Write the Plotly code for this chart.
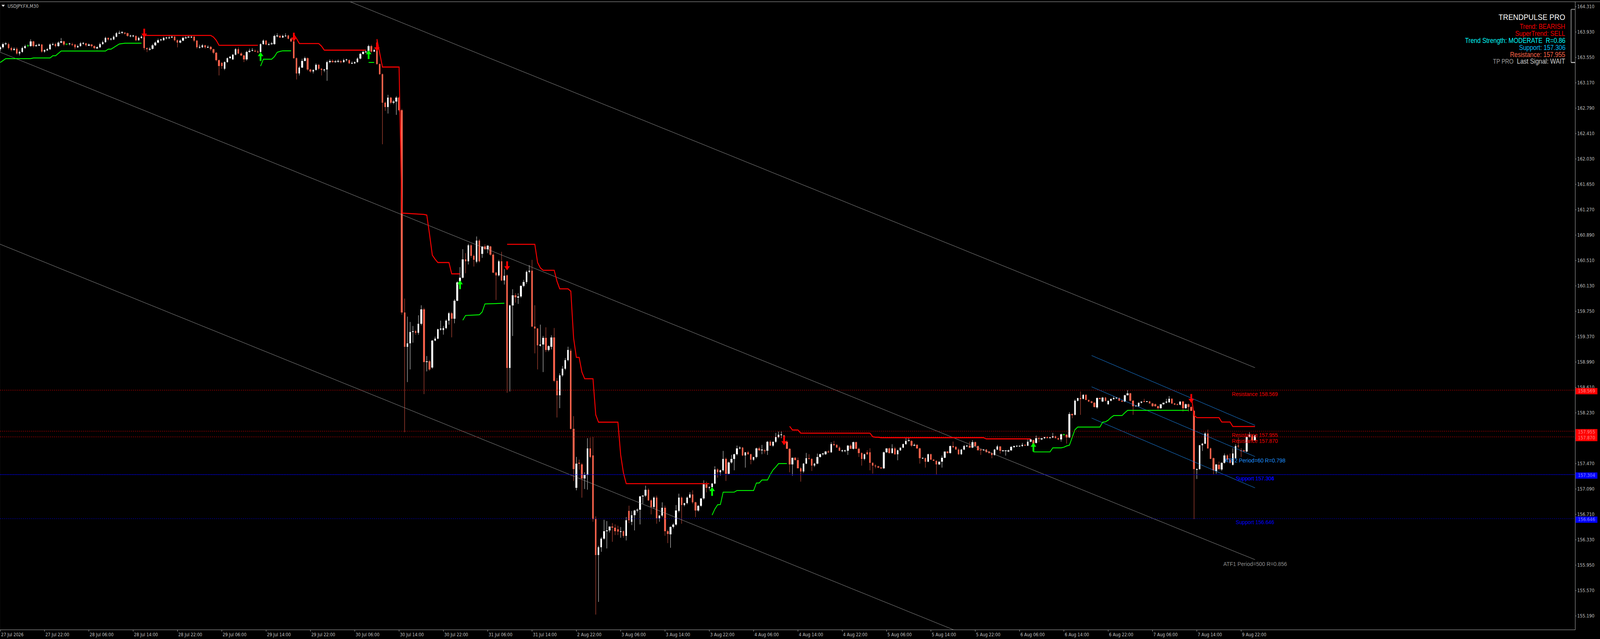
import plotly.graph_objects as go

# ---------------- candle data (USDJPY.FX, M30), bar index 0..453 ----------------
bar_open = [
    163.67, 163.70, 163.75, 163.75, 163.69, 163.66, 163.68, 163.61, 163.63, 163.69,
    163.72, 163.72, 163.79, 163.72, 163.73, 163.74, 163.64, 163.66, 163.67, 163.74,
    163.75, 163.72, 163.77, 163.79, 163.745, 163.75, 163.75, 163.74, 163.70, 163.72,
    163.76, 163.76, 163.73, 163.74, 163.72, 163.69, 163.70, 163.75, 163.78, 163.84,
    163.82, 163.82, 163.86, 163.91, 163.92, 163.92, 163.91, 163.87, 163.87, 163.87,
    163.81, 163.84, 163.86, 163.69, 163.67, 163.68, 163.73, 163.77, 163.81, 163.81,
    163.84, 163.84, 163.85, 163.86, 163.81, 163.77, 163.80, 163.84, 163.85, 163.85,
    163.86, 163.80, 163.70, 163.70, 163.73, 163.70, 163.71, 163.67, 163.62, 163.51,
    163.47, 163.38, 163.48, 163.54, 163.52, 163.59, 163.67, 163.61, 163.58, 163.52,
    163.63, 163.65, 163.65, 163.64, 163.63, 163.75, 163.80, 163.74, 163.75, 163.75,
    163.87, 163.87, 163.85, 163.87, 163.88, 163.83, 163.79, 163.54, 163.31, 163.40,
    163.50, 163.54, 163.37, 163.34, 163.36, 163.44, 163.38, 163.36, 163.37, 163.48,
    163.50, 163.48, 163.49, 163.49, 163.48, 163.51, 163.51, 163.46, 163.46, 163.48,
    163.53, 163.60, 163.63, 163.64, 163.72, 163.64, 163.71, 163.45, 163.30, 162.87,
    162.81, 162.95, 162.87, 162.89, 162.95, 162.76,
    159.73, 159.22, 159.27, 159.44, 159.45, 159.43, 159.56, 159.78, 158.99, 159.00,
    158.91, 159.31, 159.34, 159.48, 159.47, 159.50, 159.61, 159.72, 159.64, 159.91,
    160.18, 160.25, 160.53, 160.50, 160.74, 160.58, 160.49, 160.81, 160.61, 160.72,
    160.68, 160.72, 160.60, 160.33, 160.29, 160.50, 160.21, 160.29, 158.90, 159.84,
    159.99, 159.96, 159.97, 160.13, 160.19, 160.34, 160.36, 159.52, 159.49, 159.24,
    159.25, 159.35, 159.17, 159.22, 159.36, 158.71, 158.49, 158.79, 158.89, 159.02,
    159.16, 157.99, 157.11, 157.48, 157.46, 157.25, 157.30, 157.70, 157.59, 156.64,
    156.10, 156.22, 156.35, 156.46, 156.47, 156.53, 156.51, 156.49, 156.45,
    156.46, 156.39, 156.76, 156.60, 156.70, 156.77, 156.78, 156.98, 156.99, 157.08,
    156.92, 156.82, 156.96, 156.65, 156.69, 156.81, 156.46, 156.41, 156.52, 156.56,
    156.76, 156.96, 156.85, 156.88, 156.96, 157.01, 156.89, 156.77, 156.84, 156.95,
    157.16, 157.11, 157.12, 157.17, 157.38, 157.34, 157.37, 157.54, 157.32, 157.49,
    157.54, 157.61, 157.70, 157.71, 157.59, 157.64, 157.61, 157.53, 157.57, 157.70,
    157.67, 157.67, 157.66, 157.80, 157.74, 157.80, 157.87, 157.90, 157.89, 157.80,
    157.69, 157.46, 157.56, 157.52, 157.40, 157.35, 157.47, 157.55, 157.54, 157.44,
    157.47, 157.57, 157.61, 157.61, 157.65, 157.64, 157.76, 157.75, 157.71, 157.66,
    157.66, 157.66, 157.74, 157.69, 157.79, 157.69, 157.63, 157.54, 157.64, 157.64,
    157.48, 157.44, 157.43, 157.41, 157.40, 157.64, 157.70, 157.63, 157.70, 157.61,
    157.67, 157.71, 157.76, 157.81, 157.81, 157.74, 157.75, 157.70, 157.55, 157.55,
    157.50, 157.61, 157.53, 157.51, 157.46, 157.50, 157.56, 157.65, 157.63, 157.73,
    157.72,
    157.68, 157.61, 157.68, 157.73, 157.74, 157.71, 157.79, 157.73, 157.68, 157.67,
    157.68, 157.65, 157.63, 157.60, 157.68, 157.725, 157.66, 157.66, 157.65, 157.67,
    157.72, 157.73, 157.73, 157.73, 157.75, 157.74, 157.80, 157.82, 157.78, 157.85,
    157.83, 157.85, 157.87, 157.85, 157.86, 157.88, 157.85, 157.83, 157.90, 157.90,
    157.86, 158.21, 158.20, 158.41, 158.45, 158.44, 158.50, 158.42, 158.40, 158.38,
    158.31, 158.45, 158.40, 158.455, 158.36, 158.41, 158.44, 158.45, 158.45, 158.41,
    158.40, 158.49, 158.52, 158.41, 158.33, 158.33, 158.38, 158.40, 158.395, 158.40,
    158.37, 158.36, 158.33, 158.30, 158.36, 158.38, 158.39, 158.44, 158.37, 158.36,
    158.35, 158.40, 158.30, 158.36, 158.32, 158.26, 157.38, 157.39, 157.745, 157.77,
    157.92, 157.70, 157.55, 157.36, 157.45, 157.38, 157.48, 157.59, 157.53, 157.45,
    157.55, 157.74, 157.67, 157.67, 157.65, 157.865, 157.89, 157.82,
]
bar_high = [
    163.72, 163.77, 163.78, 163.77, 163.71, 163.70, 163.70, 163.65, 163.71, 163.74,
    163.75, 163.82, 163.80, 163.75, 163.76, 163.75, 163.67, 163.69, 163.76, 163.77,
    163.77, 163.79, 163.84, 163.80, 163.76, 163.77, 163.77, 163.75, 163.74, 163.78,
    163.78, 163.77, 163.76, 163.75, 163.73, 163.72, 163.77, 163.80, 163.86, 163.85,
    163.84, 163.88, 163.93, 163.95, 163.94, 163.93, 163.92, 163.89, 163.89, 163.88,
    163.86, 163.88, 163.89, 163.70, 163.70, 163.75, 163.79, 163.83, 163.83, 163.86,
    163.86, 163.87, 163.88, 163.87, 163.82, 163.82, 163.86, 163.87, 163.87, 163.88,
    163.87, 163.81, 163.74, 163.75, 163.74, 163.73, 163.72, 163.68, 163.63, 163.52,
    163.48, 163.49, 163.55, 163.57, 163.60, 163.69, 163.70, 163.63, 163.59, 163.65,
    163.68, 163.69, 163.67, 163.66, 163.76, 163.82, 163.81, 163.77, 163.78, 163.89,
    163.91, 163.89, 163.89, 163.91, 163.89, 163.84, 163.82, 163.55, 163.42, 163.53,
    163.56, 163.55, 163.38, 163.37, 163.46, 163.45, 163.39, 163.38, 163.50, 163.52,
    163.52, 163.51, 163.52, 163.51, 163.53, 163.53, 163.52, 163.49, 163.49, 163.55,
    163.62, 163.65, 163.66, 163.74, 163.74, 163.68, 163.82, 163.46, 163.31, 162.89,
    162.99, 162.96, 162.91, 162.97, 162.96, 162.78,
    159.94, 159.67, 159.59, 159.53, 159.47, 159.69, 159.84, 159.80, 159.08, 159.02,
    159.32, 159.37, 159.49, 159.61, 159.53, 159.63, 159.74, 159.74, 159.93, 160.20,
    160.41, 160.68, 160.62, 160.76, 160.76, 160.60, 160.87, 160.83, 160.72, 160.75,
    160.74, 160.73, 160.62, 160.34, 160.52, 160.64, 160.38, 160.30, 159.85, 160.08,
    160.02, 160.02, 160.14, 160.22, 160.36, 160.44, 160.52, 159.84, 159.50, 159.55,
    159.38, 159.51, 159.24, 159.39, 159.50, 158.75, 158.82, 158.93, 159.05, 159.22,
    159.19, 158.18, 157.57, 157.53, 157.48, 157.34, 157.85, 157.86, 157.87, 156.68,
    156.24, 156.37, 156.63, 156.61, 156.52, 156.58, 156.56, 156.54, 156.52,
    156.47, 156.67, 156.84, 156.76, 156.78, 156.80, 156.99, 157.00, 157.14, 157.10,
    156.94, 156.98, 156.99, 156.70, 156.89, 156.84, 156.48, 156.53, 156.58, 156.85,
    157.02, 156.98, 156.88, 156.98, 157.04, 157.07, 156.90, 156.85, 156.95, 157.22,
    157.20, 157.13, 157.18, 157.43, 157.40, 157.38, 157.66, 157.56, 157.50, 157.60,
    157.62, 157.74, 157.73, 157.72, 157.64, 157.66, 157.62, 157.57, 157.71, 157.72,
    157.75, 157.69, 157.81, 157.82, 157.80, 157.93, 157.95, 157.95, 157.90, 157.82,
    157.70, 157.56, 157.57, 157.56, 157.42, 157.48, 157.63, 157.61, 157.55, 157.48,
    157.62, 157.62, 157.63, 157.66, 157.67, 157.79, 157.81, 157.76, 157.73, 157.68,
    157.68, 157.75, 157.76, 157.80, 157.80, 157.71, 157.64, 157.62, 157.67, 157.70,
    157.49, 157.46, 157.44, 157.42, 157.65, 157.70, 157.71, 157.76, 157.72, 157.68,
    157.71, 157.77, 157.85, 157.85, 157.82, 157.77, 157.76, 157.71, 157.56, 157.56,
    157.62, 157.62, 157.54, 157.52, 157.50, 157.59, 157.65, 157.66, 157.74, 157.80,
    157.73,
    157.70, 157.69, 157.75, 157.75, 157.80, 157.82, 157.80, 157.74, 157.69, 157.69,
    157.69, 157.66, 157.64, 157.69, 157.75, 157.73, 157.67, 157.67, 157.68, 157.73,
    157.74, 157.74, 157.74, 157.78, 157.76, 157.83, 157.84, 157.83, 157.89, 157.87,
    157.85, 157.87, 157.88, 157.87, 157.93, 157.89, 157.86, 157.92, 157.92, 157.91,
    158.24, 158.22, 158.43, 158.45, 158.55, 158.51, 158.51, 158.43, 158.41, 158.39,
    158.46, 158.46, 158.47, 158.47, 158.41, 158.44, 158.48, 158.46, 158.46, 158.42,
    158.50, 158.57, 158.53, 158.42, 158.34, 158.37, 158.40, 158.44, 158.40, 158.41,
    158.38, 158.37, 158.34, 158.36, 158.38, 158.44, 158.48, 158.45, 158.38, 158.37,
    158.40, 158.41, 158.37, 158.37, 158.33, 158.27, 157.40, 157.75, 157.78, 157.94,
    157.98, 157.71, 157.56, 157.46, 157.50, 157.49, 157.62, 157.61, 157.62, 157.70,
    157.76, 157.86, 157.70, 157.68, 157.88, 157.94, 157.91, 157.90,
]
bar_low = [
    163.64, 163.68, 163.73, 163.67, 163.64, 163.65, 163.59, 163.58, 163.62, 163.68,
    163.70, 163.71, 163.70, 163.71, 163.72, 163.62, 163.62, 163.65, 163.66, 163.73,
    163.70, 163.71, 163.76, 163.72, 163.73, 163.73, 163.72, 163.67, 163.69, 163.71,
    163.74, 163.71, 163.72, 163.70, 163.67, 163.68, 163.69, 163.74, 163.77, 163.80,
    163.80, 163.81, 163.85, 163.90, 163.90, 163.89, 163.86, 163.85, 163.85, 163.79,
    163.80, 163.83, 163.66, 163.63, 163.65, 163.67, 163.72, 163.76, 163.79, 163.80,
    163.82, 163.83, 163.84, 163.79, 163.70, 163.76, 163.79, 163.83, 163.84, 163.84,
    163.78, 163.68, 163.68, 163.69, 163.68, 163.69, 163.65, 163.60, 163.49, 163.28,
    163.38, 163.36, 163.47, 163.53, 163.51, 163.58, 163.60, 163.57, 163.48, 163.50,
    163.62, 163.64, 163.63, 163.62, 163.60, 163.74, 163.73, 163.73, 163.74, 163.74,
    163.85, 163.84, 163.84, 163.86, 163.82, 163.78, 163.53, 163.22, 163.28, 163.39,
    163.49, 163.35, 163.32, 163.31, 163.35, 163.36, 163.28, 163.33, 163.20, 163.46,
    163.47, 163.47, 163.47, 163.46, 163.47, 163.49, 163.45, 163.45, 163.45, 163.47,
    163.52, 163.59, 163.62, 163.56, 163.62, 163.63, 163.44, 163.29, 162.25, 162.75,
    162.71, 162.85, 162.85, 162.69, 162.74, 159.70,
    157.94, 158.69, 158.88, 159.28, 159.40, 159.40, 159.54, 158.51, 158.85, 158.86,
    158.89, 159.30, 159.33, 159.46, 159.40, 159.48, 159.55, 159.36, 159.57, 159.90,
    160.15, 160.24, 160.32, 160.45, 160.55, 160.42, 160.47, 160.48, 160.55, 160.67,
    160.62, 160.58, 160.32, 159.92, 160.27, 160.20, 160.15, 158.53, 158.55, 159.38,
    159.88, 159.86, 159.95, 160.11, 160.16, 160.32, 159.51, 159.12, 158.88, 159.22,
    158.84, 159.14, 159.15, 159.18, 158.69, 158.16, 158.30, 158.77, 158.87, 159.00,
    157.98, 157.21, 157.07, 157.38, 156.96, 157.09, 157.08, 157.55, 156.60, 155.21,
    155.40, 156.15, 156.33, 156.20, 156.44, 156.30, 156.40, 156.40, 156.36,
    156.36, 156.32, 156.58, 156.55, 156.47, 156.74, 156.56, 156.87, 156.97, 156.91,
    156.71, 156.80, 156.57, 156.60, 156.67, 156.39, 156.28, 156.21, 156.50, 156.54,
    156.74, 156.57, 156.83, 156.86, 156.95, 156.87, 156.67, 156.75, 156.82, 156.93,
    157.04, 157.08, 157.10, 157.16, 157.26, 157.29, 157.35, 157.21, 157.30, 157.47,
    157.37, 157.59, 157.68, 157.58, 157.41, 157.60, 157.46, 157.51, 157.55, 157.66,
    157.61, 157.62, 157.60, 157.74, 157.72, 157.78, 157.85, 157.85, 157.80, 157.69,
    157.34, 157.29, 157.52, 157.40, 157.20, 157.33, 157.46, 157.53, 157.36, 157.42,
    157.46, 157.56, 157.59, 157.60, 157.63, 157.63, 157.74, 157.71, 157.66, 157.64,
    157.64, 157.60, 157.69, 157.68, 157.69, 157.57, 157.44, 157.52, 157.60, 157.37,
    157.32, 157.40, 157.40, 157.39, 157.39, 157.63, 157.62, 157.62, 157.60, 157.52,
    157.66, 157.70, 157.75, 157.80, 157.72, 157.73, 157.69, 157.47, 157.54, 157.41,
    157.49, 157.53, 157.51, 157.30, 157.45, 157.41, 157.55, 157.62, 157.62, 157.70,
    157.68,
    157.60, 157.60, 157.67, 157.72, 157.70, 157.70, 157.73, 157.67, 157.60, 157.66,
    157.64, 157.62, 157.55, 157.59, 157.67, 157.62, 157.65, 157.59, 157.64, 157.66,
    157.71, 157.72, 157.72, 157.72, 157.74, 157.73, 157.79, 157.76, 157.77, 157.79,
    157.82, 157.84, 157.85, 157.85, 157.85, 157.85, 157.82, 157.80, 157.89, 157.77,
    157.85, 158.15, 158.19, 158.40, 158.20, 158.43, 158.42, 158.39, 158.37, 158.31,
    158.29, 158.44, 158.39, 158.40, 158.35, 158.40, 158.43, 158.44, 158.41, 158.39,
    158.39, 158.49, 158.40, 158.20, 158.32, 158.32, 158.37, 158.39, 158.39, 158.37,
    158.32, 158.32, 158.28, 158.29, 158.35, 158.37, 158.38, 158.36, 158.35, 158.35,
    158.34, 158.25, 158.29, 158.25, 158.26, 156.64, 157.24, 157.38, 157.66, 157.76,
    157.69, 157.54, 157.31, 157.32, 157.37, 157.36, 157.47, 157.51, 157.47, 157.44,
    157.54, 157.70, 157.57, 157.64, 157.64, 157.86, 157.81, 157.81,
]
bar_close = [
    163.70, 163.75, 163.75, 163.69, 163.66, 163.68, 163.61, 163.63, 163.69, 163.72,
    163.72, 163.79, 163.72, 163.73, 163.74, 163.64, 163.66, 163.67, 163.74, 163.75,
    163.72, 163.77, 163.79, 163.74, 163.745, 163.75, 163.74, 163.70, 163.72, 163.76,
    163.76, 163.73, 163.74, 163.72, 163.69, 163.70, 163.75, 163.78, 163.84, 163.82,
    163.82, 163.86, 163.91, 163.92, 163.92, 163.91, 163.87, 163.87, 163.87, 163.81,
    163.84, 163.86, 163.69, 163.67, 163.68, 163.73, 163.77, 163.81, 163.81, 163.84,
    163.84, 163.85, 163.86, 163.81, 163.77, 163.80, 163.84, 163.85, 163.85, 163.86,
    163.80, 163.70, 163.70, 163.73, 163.70, 163.71, 163.67, 163.62, 163.51, 163.42,
    163.42, 163.48, 163.54, 163.56, 163.59, 163.67, 163.61, 163.58, 163.52, 163.63,
    163.65, 163.65, 163.64, 163.63, 163.75, 163.80, 163.74, 163.75, 163.75, 163.87,
    163.87, 163.85, 163.87, 163.88, 163.83, 163.79, 163.54, 163.31, 163.40, 163.50,
    163.54, 163.37, 163.34, 163.36, 163.44, 163.38, 163.36, 163.37, 163.48, 163.50,
    163.48, 163.49, 163.49, 163.48, 163.51, 163.51, 163.46, 163.46, 163.48, 163.53,
    163.60, 163.63, 163.64, 163.72, 163.64, 163.66, 163.45, 163.30, 162.87, 162.81,
    162.95, 162.87, 162.89, 162.95, 162.76, 159.73,
    159.22, 159.27, 159.44, 159.45, 159.43, 159.56, 159.78, 158.99, 158.99, 158.88,
    159.31, 159.34, 159.48, 159.49, 159.50, 159.61, 159.72, 159.64, 159.91, 160.18,
    160.25, 160.53, 160.50, 160.74, 160.58, 160.52, 160.81, 160.50, 160.72, 160.68,
    160.73, 160.60, 160.33, 160.29, 160.50, 160.21, 160.28, 158.90, 159.84, 159.99,
    159.96, 159.97, 160.13, 160.19, 160.34, 160.36, 159.52, 159.49, 159.24, 159.25,
    159.35, 159.17, 159.23, 159.36, 158.71, 158.49, 158.79, 158.89, 159.02, 159.17,
    157.99, 157.39, 157.47, 157.47, 157.25, 157.30, 157.70, 157.57, 156.64, 156.10,
    156.22, 156.35, 156.46, 156.47, 156.53, 156.51, 156.46, 156.45, 156.46,
    156.39, 156.62, 156.62, 156.70, 156.77, 156.78, 156.98, 156.99, 157.08, 156.92,
    156.82, 156.96, 156.65, 156.69, 156.81, 156.46, 156.42, 156.52, 156.56, 156.77,
    156.96, 156.85, 156.88, 156.96, 157.01, 156.89, 156.77, 156.84, 156.95, 157.16,
    157.11, 157.12, 157.17, 157.38, 157.34, 157.37, 157.54, 157.32, 157.49, 157.54,
    157.61, 157.70, 157.71, 157.59, 157.64, 157.61, 157.53, 157.57, 157.70, 157.67,
    157.67, 157.66, 157.80, 157.74, 157.80, 157.87, 157.90, 157.90, 157.80, 157.69,
    157.46, 157.56, 157.52, 157.40, 157.35, 157.47, 157.55, 157.54, 157.44, 157.47,
    157.57, 157.61, 157.61, 157.65, 157.64, 157.76, 157.75, 157.71, 157.66, 157.66,
    157.66, 157.74, 157.69, 157.79, 157.69, 157.63, 157.54, 157.61, 157.61, 157.48,
    157.44, 157.43, 157.41, 157.40, 157.64, 157.70, 157.63, 157.70, 157.61, 157.67,
    157.71, 157.76, 157.81, 157.81, 157.74, 157.75, 157.70, 157.55, 157.55, 157.50,
    157.61, 157.53, 157.51, 157.46, 157.50, 157.56, 157.65, 157.63, 157.73, 157.72,
    157.68,
    157.61, 157.68, 157.73, 157.74, 157.71, 157.79, 157.73, 157.67, 157.67, 157.68,
    157.64, 157.63, 157.60, 157.68, 157.725, 157.66, 157.66, 157.66, 157.67, 157.72,
    157.73, 157.73, 157.73, 157.75, 157.74, 157.80, 157.83, 157.76, 157.85, 157.84,
    157.85, 157.87, 157.85, 157.86, 157.88, 157.85, 157.83, 157.91, 157.90, 157.86,
    158.21, 158.20, 158.41, 158.45, 158.44, 158.50, 158.42, 158.40, 158.38, 158.32,
    158.45, 158.44, 158.455, 158.41, 158.41, 158.44, 158.45, 158.45, 158.41, 158.40,
    158.49, 158.52, 158.41, 158.33, 158.34, 158.38, 158.40, 158.395, 158.40, 158.37,
    158.33, 158.33, 158.30, 158.36, 158.38, 158.40, 158.44, 158.37, 158.35, 158.35,
    158.40, 158.30, 158.36, 158.32, 158.26, 157.39, 157.39, 157.745, 157.77, 157.92,
    157.70, 157.54, 157.37, 157.46, 157.39, 157.48, 157.59, 157.53, 157.48, 157.62,
    157.73, 157.725, 157.66, 157.66, 157.87, 157.90, 157.82, 157.89,
]
doji_bars = [10, 24, 384]

# ---------------- SuperTrend line vertices (bar, price) ----------------
st_green_segments = [
    ([0, 1, 2, 11, 12, 18, 19, 20, 21, 22, 38, 39, 40, 41, 42, 43, 44, 45, 51],
     [163.474, 163.503, 163.532, 163.532, 163.542, 163.542, 163.575, 163.575, 163.61, 163.645,
      163.645, 163.673, 163.673, 163.698, 163.727, 163.751, 163.757, 163.762, 163.762]),
    ([94, 95, 98, 99, 100, 101, 102, 105],
     [163.42, 163.523, 163.523, 163.562, 163.626, 163.64, 163.649, 163.649]),
    ([133, 135], [163.474, 163.474]),
    ([167, 168, 173, 174, 175, 182],
     [159.616, 159.687, 159.698, 159.74, 159.86, 159.87]),
    ([257, 258, 259, 260, 261, 265, 266, 272, 273, 274, 275, 277, 278, 279, 280, 281, 284],
     [156.70, 156.79, 156.854, 156.858, 157.043, 157.043, 157.067, 157.067, 157.18, 157.18,
      157.225, 157.225, 157.306, 157.375, 157.42, 157.47, 157.47]),
    ([373, 379, 380, 383, 384, 385, 386, 387, 388, 389, 397, 398, 399, 400, 401, 402, 405, 406, 407, 429],
     [157.645, 157.645, 157.706, 157.706, 157.715, 157.735, 157.745, 157.862, 157.978, 158.017,
      158.017, 158.09, 158.095, 158.12, 158.16, 158.189, 158.189, 158.23, 158.267, 158.267]),
]
st_red_segments = [
    ([52, 76, 77, 78, 79, 93],
     [163.879, 163.879, 163.854, 163.805, 163.731, 163.731]),
    ([106, 107, 108, 115, 116, 117, 132],
     [163.893, 163.83, 163.757, 163.757, 163.718, 163.659, 163.659]),
    ([136, 137, 138, 144, 145, 153, 154, 155, 156, 157, 158, 162, 163, 166],
     [163.825, 163.61, 163.406, 163.406, 161.22, 161.20, 161.19, 160.90, 160.59, 160.53,
      160.48, 160.48, 160.31, 160.31]),
    ([183, 193, 194, 195, 196, 200, 201, 202, 205, 206, 207, 208, 209, 210, 211, 214, 215, 216,
      223, 224, 225, 226, 256],
     [160.752, 160.752, 160.48, 160.40, 160.364, 160.364, 160.20, 160.086, 160.086, 160.05,
      159.35, 159.06, 159.06, 158.84, 158.74, 158.74, 158.20, 158.09, 158.09, 157.60, 157.33,
      157.17, 157.17]),
    ([285, 286, 288, 289, 314, 315, 316, 317, 318, 355, 356, 372],
     [158.028, 157.973, 157.973, 157.926, 157.926, 157.872, 157.865, 157.865, 157.858, 157.858,
      157.84, 157.84]),
    ([430, 431, 432, 440, 441, 444, 445, 453],
     [158.485, 158.193, 158.158, 158.158, 158.092, 158.092, 158.025, 158.025]),
]
sig_down_bars = [52, 106, 136, 183, 283, 430]
sig_down_tip = [163.845, 163.786, 163.64, 160.364, 157.745, 158.378]
sig_up_bars = [94, 133, 166, 257, 373]
sig_up_tip = [163.63, 163.659, 160.215, 157.121, 157.784]

# ---------------- regression channels (end points) ----------------
atf1_x = [-1, 453]
atf1_mid = [163.644, 156.032]
atf1_up = [166.518, 158.906]
atf1_lo = [160.770, 153.158]
atf2_x = [394, 453]
atf2_mid = [158.620, 157.575]
atf2_up = [159.088, 158.043]
atf2_lo = [158.152, 157.107]

# ---------------- horizontal levels ----------------
res_levels = [158.569, 157.955, 157.870]
sup_levels = [157.306, 157.304, 156.646]

# ---------------- axes ----------------
x_tick_bars = [0, 16, 32, 48, 64, 80, 96, 112, 128, 144, 160, 176, 192, 208, 224, 240,
               256, 272, 288, 304, 320, 336, 352, 368, 384, 400, 416, 432, 448]
x_tick_text = ["27 Jul 2026", "27 Jul 22:00", "28 Jul 06:00", "28 Jul 14:00", "28 Jul 22:00",
               "29 Jul 06:00", "29 Jul 14:00", "29 Jul 22:00", "30 Jul 06:00", "30 Jul 14:00",
               "30 Jul 22:00", "31 Jul 06:00", "31 Jul 14:00", "2 Aug 22:00", "3 Aug 06:00",
               "3 Aug 14:00", "3 Aug 22:00", "4 Aug 06:00", "4 Aug 14:00", "4 Aug 22:00",
               "5 Aug 06:00", "5 Aug 14:00", "5 Aug 22:00", "6 Aug 06:00", "6 Aug 14:00",
               "6 Aug 22:00", "7 Aug 06:00", "7 Aug 14:00", "9 Aug 22:00"]
y_tick_vals = [164.31, 163.93, 163.55, 163.17, 162.79, 162.41, 162.03, 161.65, 161.27, 160.89,
               160.51, 160.13, 159.75, 159.37, 158.99, 158.61, 158.23, 157.85, 157.47, 157.09,
               156.71, 156.33, 155.95, 155.57, 155.19]
y_tick_text = ["164.310", "163.930", "163.550", "163.170", "162.790", "162.410", "162.030",
               "161.650", "161.270", "160.890", "160.510", "160.130", "159.750", "159.370",
               "158.990", "158.610", "158.230", "157.850", "157.470", "157.090", "156.710",
               "156.330", "155.950", "155.570", "155.190"]

info_lines = [
    ("Trend: BEARISH", "#FF0000"),
    ("SuperTrend: SELL", "#FF0000"),
    ("Trend Strength: MODERATE \u00a0R=0.86", "#00FFFF"),
    ("Support: 157.306", "#00BFFF"),
    ("Resistance: 157.955", "#FF6347"),
    ("Last Signal: WAIT", "#D0D0D0"),
]

n = len(bar_close)
assert len(bar_open) == n and len(bar_high) == n and len(bar_low) == n, (len(bar_open), len(bar_high), len(bar_low), n)

BULL = "#FFFFFF"
BEAR = "#F4604A"
DOJI = "#00FF00"
W, H = 4621, 1636
PL, PR, PT, PB = 0, 4549, 5, 1612   # plot area in pixels
Y_RANGE = [154.985, 164.380]
PX_PRICE = (Y_RANGE[1] - Y_RANGE[0]) / (PB - PT)   # price units per pixel

fig = go.Figure()

groups = {BULL: ([], [], [], [], []), BEAR: ([], [], [], [], []), DOJI: ([], [], [], [], [])}
for i in range(n):
    o, h, l, c = bar_open[i], bar_high[i], bar_low[i], bar_close[i]
    if i in doji_bars:
        col = DOJI
    elif c >= o:
        col = BULL
    else:
        col = BEAR
    bx, bb, bh, wx, wy = groups[col]
    lo_b = min(o, c)
    hgt = max(abs(c - o), 0.006)
    bx.append(i); bb.append(lo_b); bh.append(hgt)
    wx += [i, i, None]; wy += [l, h, None]

for col, (bx, bb, bh, wx, wy) in groups.items():
    fig.add_trace(go.Scatter(x=wx, y=wy, mode="lines", line=dict(color=col, width=1),
                             hoverinfo="skip", showlegend=False))
    fig.add_trace(go.Bar(x=bx, y=bh, base=bb, width=0.625,
                         marker=dict(color=col, line=dict(width=0)),
                         hoverinfo="skip", showlegend=False))

# regression channel ATF1 (gray)
for ys in (atf1_up, atf1_mid, atf1_lo):
    fig.add_trace(go.Scatter(x=atf1_x, y=ys, mode="lines", line=dict(color="#9A9A9A", width=1),
                             hoverinfo="skip", showlegend=False))
# regression channel ATF2 (blue)
for ys in (atf2_up, atf2_mid, atf2_lo):
    fig.add_trace(go.Scatter(x=atf2_x, y=ys, mode="lines", line=dict(color="#1E90FF", width=1),
                             hoverinfo="skip", showlegend=False))

# SuperTrend lines
for xs, ys in st_green_segments:
    fig.add_trace(go.Scatter(x=xs, y=ys, mode="lines", line=dict(color="#00FF00", width=2.2),
                             hoverinfo="skip", showlegend=False))
for xs, ys in st_red_segments:
    fig.add_trace(go.Scatter(x=xs, y=ys, mode="lines", line=dict(color="#FF0000", width=2.6),
                             hoverinfo="skip", showlegend=False))

# signal arrows: triangle head + thick shaft, anchored at the tip price
HEAD = 14          # head marker size (px)
head_off = (HEAD / 2) * PX_PRICE
shaft_off = 14.5 * PX_PRICE
for bars, tips, sign, col, head_sym in (
        (sig_down_bars, sig_down_tip, 1, "#FF0000", "triangle-down"),
        (sig_up_bars, sig_up_tip, -1, "#00FF00", "triangle-up")):
    fig.add_trace(go.Scatter(x=bars, y=[t + sign * shaft_off for t in tips], mode="markers",
                             marker=dict(symbol="line-ns", size=12,
                                         line=dict(color=col, width=5)),
                             hoverinfo="skip", showlegend=False))
    fig.add_trace(go.Scatter(x=bars, y=[t + sign * head_off for t in tips], mode="markers",
                             marker=dict(symbol=head_sym, size=HEAD, color=col,
                                         line=dict(width=0)),
                             hoverinfo="skip", showlegend=False))

shapes = []
for lv in res_levels:
    shapes.append(dict(type="line", xref="paper", x0=0, x1=1, yref="y", y0=lv, y1=lv,
                       line=dict(color="#FF0000", width=1, dash="3px,3px")))
for k, lv in enumerate(sup_levels):
    shapes.append(dict(type="line", xref="paper", x0=0, x1=1, yref="y", y0=lv, y1=lv,
                       line=dict(color="#0000FF", width=1.4 if k < 2 else 1,
                                 dash="2px,2px" if k < 2 else "3px,3px")))


def px2paper_x(px):
    return (px - PL) / (PR - PL)


def px2paper_y(py):
    return (PB - py) / (PB - PT)


# top frame line across the window
shapes.append(dict(type="line", xref="paper", yref="paper", x0=0, x1=px2paper_x(W),
                   y0=px2paper_y(4.5), y1=px2paper_y(4.5), line=dict(color="#B0B0B0", width=1)))
# bracket near the right axis
bx0 = px2paper_x(4537.5)
shapes.append(dict(type="line", xref="paper", yref="paper", x0=bx0, x1=bx0,
                   y0=px2paper_y(24), y1=px2paper_y(160), line=dict(color="#808080", width=2.5)))
shapes.append(dict(type="line", xref="paper", yref="paper", x0=bx0, x1=1,
                   y0=px2paper_y(24), y1=px2paper_y(24), line=dict(color="#808080", width=2.5)))
shapes.append(dict(type="line", xref="paper", yref="paper", x0=bx0, x1=1,
                   y0=px2paper_y(160), y1=px2paper_y(160), line=dict(color="#C8C8C8", width=2.5)))
# one-click triangle top-left
tri = "M {:.6f} {:.6f} L {:.6f} {:.6f} L {:.6f} {:.6f} Z".format(
    px2paper_x(4.2), px2paper_y(12.2), px2paper_x(14.2), px2paper_y(12.2),
    px2paper_x(9.2), px2paper_y(17.5))
shapes.append(dict(type="path", xref="paper", yref="paper", path=tri,
                   fillcolor="#E6E6E6", line=dict(width=0)))

ann = []
# x-axis labels (left-aligned at the tick like MT4)
for b, t in zip(x_tick_bars, x_tick_text):
    ann.append(dict(x=b, y=0, xref="x", yref="paper", text=t, showarrow=False,
                    xanchor="left", yanchor="middle", xshift=0, yshift=-13,
                    font=dict(family="DejaVu Sans", size=11.5, color="#C0C0C0")))

# object labels (centered at the last bar)
lab_font = "Liberation Sans"
for lv in res_levels:
    ann.append(dict(x=453, y=lv, xref="x", yref="y", text="Resistance {:.3f}".format(lv),
                    showarrow=False, xanchor="center", yanchor="middle", yshift=-9.5,
                    font=dict(family=lab_font, size=15, color="#FF0000")))
for lv in sup_levels:
    ann.append(dict(x=453, y=lv, xref="x", yref="y", text="Support {:.3f}".format(lv),
                    showarrow=False, xanchor="center", yanchor="middle", yshift=-9,
                    font=dict(family=lab_font, size=15, color="#0000FF")))
ann.append(dict(x=453, y=atf2_mid[1], xref="x", yref="y", text="ATF2 Period=60 R=0.798",
                showarrow=False, xanchor="center", yanchor="middle", yshift=-9.5,
                font=dict(family=lab_font, size=15.5, color="#1E90FF")))
ann.append(dict(x=453, y=atf1_mid[1], xref="x", yref="y", text="ATF1 Period=500 R=0.856",
                showarrow=False, xanchor="center", yanchor="middle", yshift=-11,
                font=dict(family=lab_font, size=15.5, color="#8C8C8C")))

# price boxes on the right scale
for lv in res_levels:
    ann.append(dict(x=1, y=lv, xref="paper", yref="y", text="{:.3f}".format(lv), showarrow=False,
                    xanchor="left", yanchor="middle", xshift=1, yshift=-2.5, width=60, height=13,
                    bgcolor="#FF0000", borderpad=1,
                    font=dict(family="DejaVu Sans", size=12, color="#FF8A8A")))
for lv in (sup_levels[1], sup_levels[2]):
    ann.append(dict(x=1, y=lv, xref="paper", yref="y", text="{:.3f}".format(lv), showarrow=False,
                    xanchor="left", yanchor="middle", xshift=1, yshift=-2.5, width=60, height=13,
                    bgcolor="#0000FF", borderpad=1,
                    font=dict(family="DejaVu Sans", size=12, color="#8A8AFF")))

# top-left symbol caption
ann.append(dict(x=0, y=1, xref="paper", yref="paper", text="USDJPY.FX,M30", showarrow=False,
                xanchor="left", yanchor="middle", xshift=20, yshift=-11.2,
                font=dict(family="DejaVu Sans", size=12, color="#C0C0C0")))

# info panel
ann.append(dict(x=1, y=1, xref="paper", yref="paper", text="TRENDPULSE PRO", showarrow=False,
                xanchor="right", yanchor="middle", xshift=-26.3, yshift=-(43.5 - PT),
                font=dict(family=lab_font, size=21, color="#FFFFFF")))
info_y = [67.5, 85.7, 104, 122, 139.5, 157]
for (txt, col), yc in zip(info_lines, info_y):
    ann.append(dict(x=1, y=1, xref="paper", yref="paper", text=txt, showarrow=False,
                    xanchor="right", yanchor="middle", xshift=-26.3, yshift=-(yc - PT),
                    font=dict(family=lab_font, size=17.5, color=col)))
ann.append(dict(x=1, y=1, xref="paper", yref="paper", text="TP PRO", showarrow=False,
                xanchor="right", yanchor="middle", xshift=-(PR - 4373.3), yshift=-(157 - PT),
                font=dict(family=lab_font, size=16, color="#A0A0A0")))

fig.update_layout(
    width=W, height=H, autosize=False,
    margin=dict(l=PL, r=W - PR, t=PT, b=H - PB, pad=0),
    paper_bgcolor="#000000", plot_bgcolor="#000000",
    showlegend=False, barmode="overlay", bargap=0,
    shapes=shapes, annotations=ann,
    xaxis=dict(range=[-0.075, 568.55], showgrid=False, zeroline=False, showline=True,
               linecolor="#C0C0C0", linewidth=1, mirror=True, ticks="outside", ticklen=4,
               tickwidth=1, tickcolor="#C0C0C0", tickmode="array", tickvals=x_tick_bars,
               showticklabels=False, automargin=False, fixedrange=True),
    yaxis=dict(range=Y_RANGE, side="right", showgrid=False, zeroline=False,
               showline=True, linecolor="#C0C0C0", linewidth=1, mirror=True, ticks="outside",
               ticklen=3, tickwidth=1, tickcolor="#C0C0C0", tickmode="array",
               tickvals=y_tick_vals, ticktext=y_tick_text, automargin=False, fixedrange=True,
               tickfont=dict(family="DejaVu Sans", size=12, color="#C0C0C0")),
)

# The page may be laid out in a viewport smaller than the photographed 4621x1636 window;
# stretch the finished figure so it fills the visible viewport exactly.
fit_js = (
    "var de=document.documentElement;de.style.overflow='hidden';de.style.background='#000';"
    "document.body.style.margin='0';document.body.style.overflow='hidden';"
    "document.body.style.background='#000';"
    "var gd=document.getElementsByClassName('plotly-graph-div')[0];"
    "var vw=de.clientWidth||window.innerWidth, vh=de.clientHeight||window.innerHeight;"
    "var sx=vw/%d, sy=vh/%d;"
    "if(Math.abs(sx-1)>0.002||Math.abs(sy-1)>0.002){"
    "gd.style.transformOrigin='0 0';gd.style.transform='scale('+sx+','+sy+')';}" % (W, H)
)
fig.write_html("out.html", include_plotlyjs=True, config={"displayModeBar": False},
               post_script=fit_js)
